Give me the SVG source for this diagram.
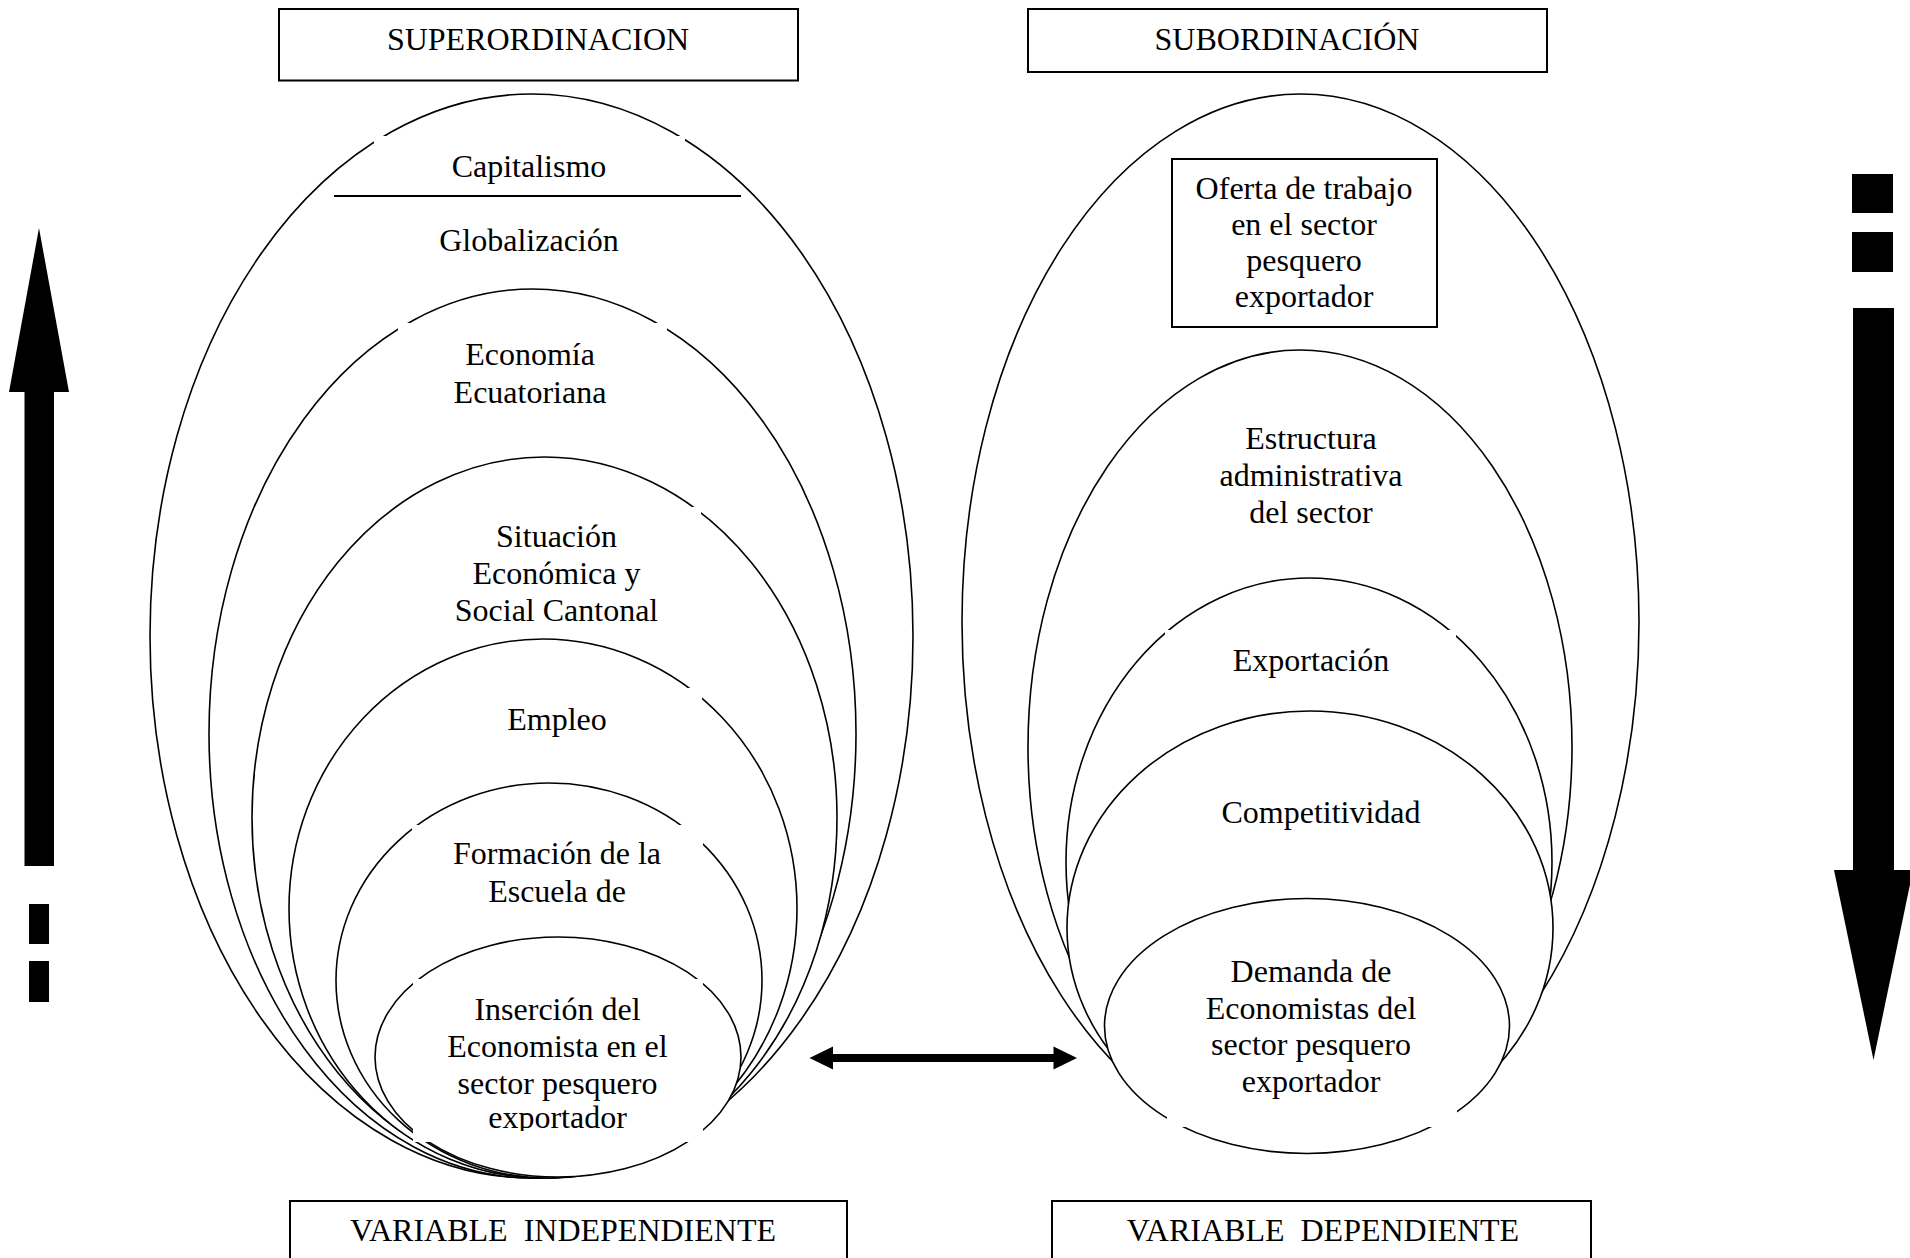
<svg xmlns="http://www.w3.org/2000/svg" width="1910" height="1258" viewBox="0 0 1910 1258">
<style>
.e{fill:#fff;stroke:#000;stroke-width:1.6}
.tb{fill:#fff;stroke:none}
.box{fill:#fff;stroke:#000;stroke-width:2}
.t{font-family:"Liberation Serif","Times New Roman",serif;font-size:32px;text-anchor:middle;fill:#000}
.pre{white-space:pre}
.ar{fill:#000;stroke:none}
</style>
<defs>
<clipPath id="clipE6"><rect x="413" y="979" width="290" height="152"/></clipPath>
</defs>
<rect width="1910" height="1258" fill="#fff"/>

<g id="superordinacion">
<rect class="box" x="279" y="9" width="519" height="71.5"/>
<text class="t" x="538" y="50">SUPERORDINACION</text>
</g>
<g id="subordinacion">
<rect class="box" x="1028" y="9" width="519" height="63"/>
<text class="t" x="1287" y="50">SUBORDINACIÓN</text>
</g>

<g id="capitalismo">
<ellipse class="e" cx="531.5" cy="636" rx="381.5" ry="542"/>
<rect class="tb" x="374" y="136" width="311" height="54"/>
<text class="t" x="529" y="177">Capitalismo</text>
<line x1="334" y1="196" x2="741" y2="196" stroke="#000" stroke-width="2"/>
<text class="t" x="529" y="251">Globalización</text>
</g>
<g id="economia">
<ellipse class="e" cx="532.5" cy="733.5" rx="323.5" ry="444.5"/>
<rect class="tb" x="398" y="323" width="269" height="87"/>
<text class="t" x="530" y="365">Economía</text>
<text class="t" x="530" y="403">Ecuatoriana</text>
</g>
<g id="situacion">
<ellipse class="e" cx="544.5" cy="817.5" rx="292.5" ry="360.5"/>
<rect class="tb" x="412" y="507" width="289" height="123"/>
<text class="t" x="556.5" y="547">Situación</text>
<text class="t" x="556.5" y="584">Económica y</text>
<text class="t" x="556.5" y="620.5">Social Cantonal</text>
</g>
<g id="empleo">
<ellipse class="e" cx="543" cy="908.5" rx="254" ry="269.5"/>
<rect class="tb" x="412" y="688" width="290" height="57"/>
<text class="t" x="557" y="730">Empleo</text>
</g>
<g id="formacion">
<ellipse class="e" cx="549" cy="980.5" rx="213" ry="197.5"/>
<rect class="tb" x="412" y="825" width="291" height="85"/>
<text class="t" x="557" y="864">Formación de la</text>
<text class="t" x="557" y="901.5">Escuela de</text>
</g>
<g id="insercion">
<ellipse class="e" cx="558" cy="1057" rx="183" ry="120"/>
<rect class="tb" x="413" y="979" width="290" height="163"/>
<g clip-path="url(#clipE6)">
<text class="t" x="557.5" y="1019.5">Inserción del</text>
<text class="t" x="557.5" y="1056.5">Economista en el</text>
<text class="t" x="557.5" y="1093.5">sector pesquero</text>
<text class="t" x="557.5" y="1128">exportador</text>
</g>
</g>

<g id="oferta">
<ellipse class="e" cx="1300.5" cy="622" rx="338.5" ry="528"/>
<rect class="box" x="1172" y="159" width="265" height="168"/>
<text class="t" x="1304" y="198.5">Oferta de trabajo</text>
<text class="t" x="1304" y="235">en el sector</text>
<text class="t" x="1304" y="271">pesquero</text>
<text class="t" x="1304" y="307">exportador</text>
</g>
<g id="estructura">
<ellipse class="e" cx="1300" cy="747" rx="272" ry="397"/>
<text class="t" x="1311" y="448.5">Estructura</text>
<text class="t" x="1311" y="486">administrativa</text>
<text class="t" x="1311" y="523">del sector</text>
</g>
<g id="exportacion">
<ellipse class="e" cx="1309" cy="862" rx="243" ry="284"/>
<rect class="tb" x="1165" y="630" width="291" height="65"/>
<text class="t" x="1311" y="671">Exportación</text>
</g>
<g id="competitividad">
<ellipse class="e" cx="1310" cy="928" rx="243" ry="217"/>
<text class="t" x="1321" y="823">Competitividad</text>
</g>
<g id="demanda">
<ellipse class="e" cx="1307" cy="1026" rx="202.5" ry="127.5"/>
<rect class="tb" x="1167" y="950" width="290" height="177"/>
<text class="t" x="1311" y="982">Demanda de</text>
<text class="t" x="1311" y="1018.5">Economistas del</text>
<text class="t" x="1311" y="1055">sector pesquero</text>
<text class="t" x="1311" y="1092">exportador</text>
</g>

<g id="var-independiente">
<rect class="box" x="290" y="1201" width="557" height="70"/>
<text class="t pre" x="563" y="1241" xml:space="preserve">VARIABLE  INDEPENDIENTE</text>
</g>
<g id="var-dependiente">
<rect class="box" x="1052" y="1201" width="539" height="70"/>
<text class="t pre" x="1323" y="1241" xml:space="preserve">VARIABLE  DEPENDIENTE</text>
</g>

<g id="connectors">
<polygon class="ar" points="809.5,1058 833,1046.5 833,1054 1053.5,1054 1053.5,1046.5 1077,1058 1053.5,1069.5 1053.5,1062 833,1062 833,1069.5"/>
<polygon class="ar" points="39,228 69,392 54,392 54,866 24.5,866 24.5,392 9,392"/>
<rect class="ar" x="29" y="904" width="20" height="40"/>
<rect class="ar" x="29" y="961" width="20" height="41"/>
<rect class="ar" x="1852" y="174" width="41" height="39"/>
<rect class="ar" x="1852" y="232" width="41" height="40"/>
<polygon class="ar" points="1853,308 1894,308 1894,870 1913,870 1873.5,1060 1834,870 1853,870"/>
</g>
</svg>
